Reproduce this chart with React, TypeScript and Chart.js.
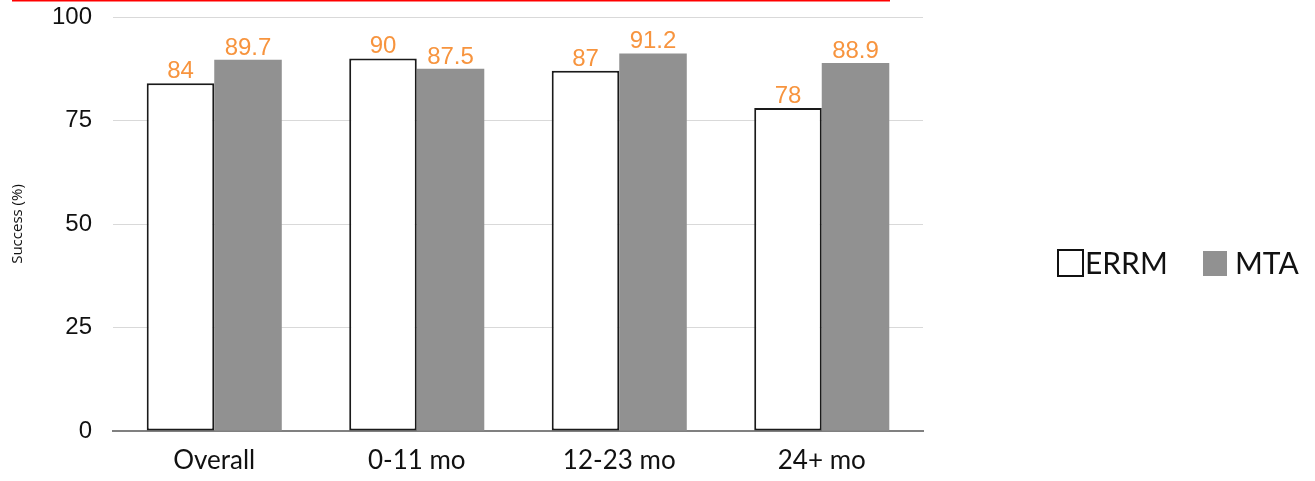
import React, { useEffect, useRef } from "react";
import { Chart, registerables } from "chart.js";

Chart.register(...registerables);

const categories = ["Overall", "0-11 mo", "12-23 mo", "24+ mo"];
const errmValues = [84, 90, 87, 78];
const mtaValues = [89.7, 87.5, 91.2, 88.9];
const errmLabels = ["84", "90", "87", "78"];
const mtaLabels = ["89.7", "87.5", "91.2", "88.9"];
const yTicks = [0, 25, 50, 75, 100];
const seriesNames = ["ERRM", "MTA"];

const W = 1315;
const H = 481;

const extras = {
  id: "extras",
  afterDatasetsDraw(chart: any) {
    const ctx = chart.ctx;
    ctx.save();
    // data labels
    ctx.fillStyle = "#f7943e";
    ctx.font = "24px 'Liberation Sans', Arial, sans-serif";
    ctx.textAlign = "center";
    ctx.textBaseline = "alphabetic";
    const lbls = [errmLabels, mtaLabels];
    chart.data.datasets.forEach((ds: any, di: number) => {
      const meta = chart.getDatasetMeta(di);
      meta.data.forEach((bar: any, i: number) => {
        ctx.fillText(lbls[di][i], bar.x, bar.y - 5);
      });
    });
    // red line at top
    ctx.fillStyle = "#ff0000";
    ctx.fillRect(12, 0, 878, 1.5);
    // legend
    const ly = 250;
    ctx.fillStyle = "#ffffff";
    ctx.fillRect(1058, ly, 25, 26);
    ctx.strokeStyle = "#111";
    ctx.lineWidth = 2;
    ctx.strokeRect(1058, ly, 25, 26);
    ctx.fillStyle = "#919191";
    ctx.fillRect(1203, ly + 1, 24, 25);
    ctx.fillStyle = "#111";
    ctx.font = "30px Lato, 'Open Sans', sans-serif";
    ctx.textAlign = "left";
    ctx.textBaseline = "middle";
    ctx.fillText(seriesNames[0], 1085, ly + 14);
    ctx.fillText(seriesNames[1], 1235, ly + 14);
    ctx.restore();
  },
};

export default function App() {
  const ref = useRef<HTMLCanvasElement>(null);
  useEffect(() => {
    const chart = new Chart(ref.current!, {
      type: "bar",
      data: {
        labels: categories,
        datasets: [
          {
            label: seriesNames[0],
            data: errmValues,
            backgroundColor: "#ffffff",
            borderColor: "#1a1a1a",
            borderWidth: 2,
            borderSkipped: false,
            categoryPercentage: 0.667,
            barPercentage: 1,
          },
          {
            label: seriesNames[1],
            data: mtaValues,
            backgroundColor: "#919191",
            borderWidth: 0,
            categoryPercentage: 0.667,
            barPercentage: 1,
          },
        ],
      },
      options: {
        animation: false,
        responsive: false,
        maintainAspectRatio: false,
        layout: { padding: { left: 0, right: 392, top: 17, bottom: 0 } },
        plugins: { legend: { display: false }, tooltip: { enabled: false } },
        scales: {
          x: {
            grid: { display: false, drawTicks: false },
            border: { display: true, color: "#808080", width: 2 },
            ticks: {
              color: "#111",
              font: { family: "Lato, 'Open Sans', sans-serif", size: 26 },
              padding: 14,
            },
            afterFit(scale: any) {
              scale.height = 50;
              scale.paddingLeft = 0;
              scale.paddingRight = 0;
            },
          },
          y: {
            min: 0,
            max: 100,
            afterBuildTicks(scale: any) {
              scale.ticks = yTicks.map((v) => ({ value: v }));
            },
            grid: { color: "#d9d9d9", lineWidth: 1, drawTicks: false },
            border: { display: false },
            ticks: {
              color: "#111",
              font: { family: "'Liberation Sans', Arial, sans-serif", size: 24 },
              padding: 21,
            },
            title: {
              display: true,
              text: "Success (%)",
              color: "#111",
              font: { family: "'Open Sans', sans-serif", size: 15 },
              padding: { top: 9, bottom: 0 },
            },
            afterFit(scale: any) {
              scale.width = 113;
              scale.paddingTop = 0;
              scale.paddingBottom = 0;
            },
          },
        },
      },
      plugins: [extras],
    });
    return () => chart.destroy();
  }, []);
  return (
    <div style={{ position: "fixed", left: 0, top: 0, width: W, height: H, background: "#fff" }}>
      <canvas ref={ref} width={W} height={H} style={{ width: W, height: H, display: "block" }} />
    </div>
  );
}
